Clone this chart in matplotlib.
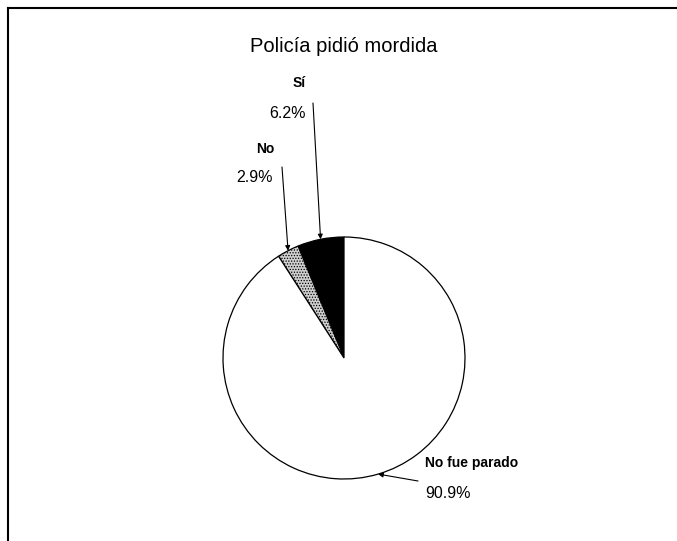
import numpy as np
import matplotlib
matplotlib.use("Agg")
import matplotlib.pyplot as plt
from matplotlib.lines import Line2D

plt.rcParams["font.family"] = ["Liberation Sans", "DejaVu Sans"]
plt.rcParams["hatch.linewidth"] = 0.6

title = "Policía pidió mordida"
labels = ["Sí", "No", "No fue parado"]
values = [6.2, 2.9, 90.9]
colors = ["black", "#cfcfcf", "white"]
hatches = [None, "......", None]

W, H = 677, 541
fig = plt.figure(figsize=(W / 100, H / 100), dpi=100)

# pie centred at (344, 358) px, radius 121 px
cx, cy, r = 344, 358, 121
ax = fig.add_axes([(cx - r) / W, (H - cy - r) / H, 2 * r / W, 2 * r / H])
wedges, _ = ax.pie(values, colors=colors, startangle=90, counterclock=True,
                   wedgeprops=dict(edgecolor="black", linewidth=0.9))
for w, h in zip(wedges, hatches):
    if h:
        w.set_hatch(h)
ax.set_xlim(-1, 1)
ax.set_ylim(-1, 1)
ax.axis("off")

fig.text(cx / W, 1 - 47 / H, title, ha="center", va="center", fontsize=14.5)

# label name / percentage / arrow tail positions in image pixels
name_pos = [(299, 83), (265, 149), (472, 463)]
pct_pos = [(288, 114), (255, 178), (448, 493)]
tail_pos = [(313, 103), (282, 167), (418, 481)]

for w, lab, v, npos, ppos, tpos in zip(wedges, labels, values, name_pos, pct_pos, tail_pos):
    fig.text(npos[0] / W, 1 - npos[1] / H, lab, ha="center", va="center",
             fontsize=10, fontweight="heavy")
    fig.text(ppos[0] / W, 1 - ppos[1] / H, f"{v:.1f}%", ha="center", va="center",
             fontsize=11.5)
    mid = np.deg2rad((w.theta1 + w.theta2) / 2)
    ax.annotate("", xy=(np.cos(mid), np.sin(mid)), xycoords="data",
                xytext=(tpos[0], H - tpos[1]), textcoords="figure pixels",
                arrowprops=dict(arrowstyle="-|>", color="black", lw=0.8,
                                mutation_scale=7, shrinkA=0, shrinkB=0),
                annotation_clip=False)

# chart border (only left and top edges are inside the image)
fig.add_artist(Line2D([8 / W, 8 / W], [0, 1 - 8 / H], color="black", lw=1.5))
fig.add_artist(Line2D([8 / W, 1], [1 - 8 / H, 1 - 8 / H], color="black", lw=1.5))

fig.savefig("out.png", dpi=100, facecolor="white")
